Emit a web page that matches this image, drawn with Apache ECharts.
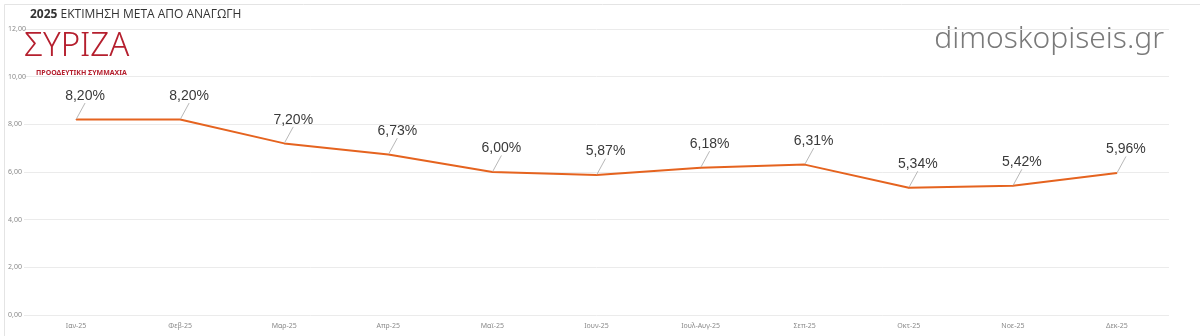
<!DOCTYPE html>
<html>
<head>
<meta charset="utf-8">
<script src="https://cdn.jsdelivr.net/npm/echarts@6/dist/echarts.min.js"></script>
<style>
  html, body { margin: 0; padding: 0; background: #fff; }
  #chart { width: 1200px; height: 336px; }
</style>
</head>
<body>
<div id="chart"></div>
<script>
// Monthly estimate (after redistribution), 2025
const months = ['Ιαν-25', 'Φεβ-25', 'Μαρ-25', 'Απρ-25', 'Μαϊ-25', 'Ιουν-25', 'Ιουλ-Αυγ-25', 'Σεπ-25', 'Οκτ-25', 'Νοε-25', 'Δεκ-25'];
const estimate = [8.20, 8.20, 7.20, 6.73, 6.00, 5.87, 6.18, 6.31, 5.34, 5.42, 5.96];
const yTicks = { min: 0, max: 12, step: 2 };

const fmt = (v, d) => v.toFixed(d).replace('.', ',');

const chart = echarts.init(document.getElementById('chart'), null, { renderer: 'canvas' });

chart.setOption({
  backgroundColor: '#ffffff',
  animation: false,
  grid: { left: 24, right: 31, top: 29, bottom: 21, containLabel: false },
  xAxis: {
    type: 'category',
    data: months,
    boundaryGap: true,
    axisLine: { show: false },
    axisTick: { show: false },
    axisLabel: { color: '#8a8a8a', fontSize: 7, fontFamily: 'Noto Sans', margin: 7 }
  },
  yAxis: {
    type: 'value',
    min: yTicks.min,
    max: yTicks.max,
    interval: yTicks.step,
    axisLine: { show: false },
    axisTick: { show: false },
    splitLine: { lineStyle: { color: '#ebebeb', width: 1 } },
    axisLabel: {
      color: '#8a8a8a', fontSize: 7, fontFamily: 'Noto Sans', margin: -2,
      align: 'left', verticalAlign: 'middle',
      formatter: v => fmt(v, 2), padding: [0, 0, 0, -18]
    }
  },
  series: [{
    type: 'line',
    data: estimate,
    symbol: 'circle',
    symbolSize: 1,
    showSymbol: true,
    itemStyle: { color: '#e5631f' },
    lineStyle: { color: '#e5631f', width: 2 },
    label: {
      show: true,
      position: 'top',
      distance: 4,
      color: '#3a3a3a',
      fontSize: 14,
      fontFamily: 'Liberation Sans',
      formatter: p => fmt(p.value, 2) + '%'
    },
    labelLayout: { dx: 9, dy: -12 },
    labelLine: { show: true, lineStyle: { color: '#b8b8b8', width: 1 } }
  }],
  graphic: [
    {
      type: 'rect', left: 2, top: 2,
      shape: { width: 1196, height: 332 },
      style: { fill: 'none', stroke: '#e4e4e4', lineWidth: 1 }
    },
    {
      type: 'text', left: 30, top: 9,
      style: {
        text: '{b|2025} ΕΚΤΙΜΗΣΗ ΜΕΤΑ ΑΠΟ ΑΝΑΓΩΓΗ',
        font: '12px "Open Sans"', fill: '#333',
        rich: { b: { fontWeight: 'bold', fontSize: 12, fontFamily: 'Open Sans', fill: '#333' } }
      }
    },
    {
      type: 'text', left: 24, top: 30,
      style: { text: 'ΣΥΡΙΖΑ', font: '300 33px "Noto Sans"', fill: '#b51f2e', letterSpacing: 1 }
    },
    {
      type: 'text', left: 36, top: 69,
      style: { text: 'ΠΡΟΟΔΕΥΤΙΚΗ ΣΥΜΜΑΧΙΑ', font: 'bold 7px "Noto Sans"', fill: '#b51f2e', letterSpacing: 0.3 }
    },
    {
      type: 'text', right: 36, top: 24,
      style: { text: 'dimoskopiseis.gr', font: '300 30px "Noto Sans"', fill: '#7a7a7a', letterSpacing: 1 }
    }
  ]
});
</script>
</body>
</html>
